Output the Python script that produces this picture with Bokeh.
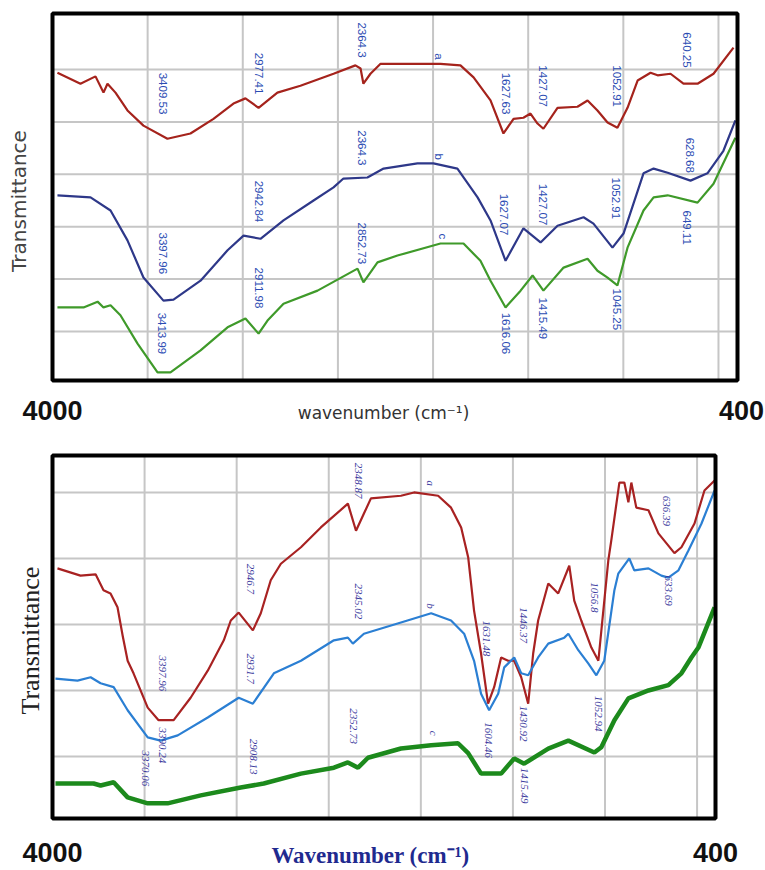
import math
from bokeh.plotting import figure
from bokeh.models import Range1d, ColumnDataSource
from bokeh.layouts import column
from bokeh.core.properties import value
from bokeh.embed import file_html
from bokeh.resources import INLINE

# ---------------- top panel data (wavenumber cm-1, transmittance a.u.) ----------------
top_a_wn = [3974, 3853, 3774, 3732, 3711, 3669, 3606, 3522, 3396, 3275, 3154, 3049, 2986, 2917, 2818, 2697,
            2523, 2408, 2381, 2366, 2329, 2276, 1961, 1856, 1787, 1698, 1630, 1577, 1525, 1488, 1451, 1420,
            1346, 1241, 1188, 1136, 1083, 1031, 978, 925, 857, 820, 752, 684, 610, 526, 421]
top_a_T = [5.94, 5.73, 5.87, 5.56, 5.73, 5.56, 5.22, 4.93, 4.68, 4.78, 5.06, 5.35, 5.45, 5.27, 5.56, 5.69,
           5.92, 6.08, 6.02, 5.73, 5.92, 6.11, 6.11, 6.08, 5.85, 5.41, 4.78, 5.06, 5.08, 5.16, 4.97, 4.87,
           5.27, 5.29, 5.41, 5.22, 4.99, 4.89, 5.27, 5.79, 5.94, 5.89, 5.92, 5.73, 5.73, 5.92, 6.42]

top_b_wn = [3974, 3800, 3695, 3606, 3522, 3417, 3364, 3222, 3080, 2996, 2907, 2786, 2628, 2523, 2471, 2345,
            2260, 2082, 1998, 1872, 1766, 1698, 1619, 1525, 1435, 1346, 1209, 1157, 1057, 999, 894, 841,
            767, 647, 558, 474, 411]
top_b_T = [3.60, 3.56, 3.31, 2.74, 2.03, 1.59, 1.61, 1.97, 2.55, 2.83, 2.77, 3.12, 3.50, 3.75, 3.92, 3.94,
           4.11, 4.21, 4.21, 4.11, 3.56, 3.12, 2.35, 2.97, 2.70, 3.02, 3.18, 3.06, 2.60, 2.87, 4.02, 4.11,
           4.03, 3.88, 4.02, 4.45, 5.03]

top_c_wn = [3974, 3837, 3763, 3732, 3695, 3643, 3553, 3448, 3380, 3222, 3080, 2986, 2917, 2870, 2786, 2607,
            2397, 2366, 2292, 2187, 1961, 1840, 1751, 1698, 1619, 1540, 1477, 1420, 1314, 1188, 1136, 1083,
            1031, 978, 894, 841, 767, 610, 526, 411]
top_c_T = [1.46, 1.46, 1.57, 1.46, 1.50, 1.31, 0.77, 0.22, 0.22, 0.64, 1.08, 1.25, 0.96, 1.21, 1.53, 1.78,
           2.20, 1.94, 2.32, 2.45, 2.68, 2.68, 2.35, 1.97, 1.46, 1.78, 2.07, 1.78, 2.22, 2.39, 2.16, 2.03,
           1.88, 2.60, 3.31, 3.56, 3.60, 3.46, 3.82, 4.70]

top_labels = ["3409.53", "2977.41", "2364.3", "a", "1627.63", "1427.07", "1052.91", "640.25",
              "2364.3", "2942.84", "b", "1627.07", "1427.07", "1052.91", "628.68",
              "3397.96", "2911.98", "2852.73", "c", "3413.99", "1616.06", "1415.49", "1045.25", "649.11"]
top_label_wn = [3417, 2917, 2371, 1971, 1619, 1420, 1031, 663,
                2371, 2917, 1971, 1625, 1420, 1036, 652,
                3417, 2917, 2371, 1950, 3427, 1619, 1420, 1031, 663]
top_label_T = [5.94, 6.32, 6.90, 6.31, 5.94, 6.08, 6.08, 6.71,
               4.84, 3.88, 4.40, 3.63, 3.82, 3.94, 4.70,
               2.89, 2.22, 3.08, 2.87, 1.36, 1.36, 1.65, 1.82, 3.31]

# ---------------- bottom panel data ----------------
bot_a_wn = [3973, 3848, 3766, 3723, 3685, 3647, 3619, 3592, 3560, 3483, 3424, 3342, 3250, 3157, 3070, 3032,
            2989, 2912, 2869, 2815, 2760, 2651, 2543, 2396, 2352, 2309, 2271, 2108, 2037, 1906, 1836, 1781,
            1743, 1711, 1673, 1635, 1602, 1564, 1526, 1493, 1455, 1417, 1390, 1363, 1308, 1254, 1194, 1167,
            1129, 1074, 1036, 982, 966, 922, 895, 873, 857, 830, 764, 710, 623, 585, 514, 460, 405]
bot_a_T = [3.85, 3.74, 3.76, 3.52, 3.47, 3.26, 2.83, 2.45, 2.26, 1.74, 1.55, 1.55, 1.89, 2.30, 2.76, 3.06,
           3.18, 2.91, 3.17, 3.67, 3.92, 4.17, 4.47, 4.83, 4.42, 4.68, 4.91, 4.95, 5.00, 4.95, 4.77, 4.47,
           4.02, 3.21, 2.56, 1.80, 2.05, 2.50, 2.45, 2.45, 2.20, 1.80, 2.56, 3.06, 3.62, 3.47, 3.89, 3.36,
           3.06, 2.65, 2.45, 3.97, 4.27, 5.15, 5.15, 4.85, 5.15, 4.77, 4.73, 4.38, 4.08, 4.17, 4.53, 5.03, 5.18]

bot_b_wn = [3984, 3864, 3793, 3739, 3668, 3592, 3483, 3413, 3320, 3157, 2989, 2912, 2798, 2651, 2472, 2396,
            2369, 2309, 2108, 1944, 1836, 1765, 1711, 1673, 1629, 1580, 1547, 1493, 1455, 1417, 1363, 1308,
            1221, 1199, 1145, 1091, 1047, 1004, 949, 928, 868, 841, 764, 694, 656, 601, 547, 476, 405]
bot_b_T = [2.18, 2.15, 2.20, 2.11, 2.05, 1.70, 1.29, 1.24, 1.32, 1.59, 1.89, 1.80, 2.26, 2.45, 2.76, 2.80,
           2.71, 2.86, 3.03, 3.17, 3.06, 2.86, 2.45, 1.95, 1.70, 1.95, 2.35, 2.50, 2.26, 2.23, 2.50, 2.71,
           2.80, 2.86, 2.61, 2.41, 2.23, 2.45, 3.52, 3.77, 4.00, 3.82, 3.85, 3.74, 3.71, 3.82, 4.12, 4.53, 5.03]

bot_c_wn = [3984, 3777, 3739, 3668, 3592, 3483, 3375, 3195, 2978, 2853, 2651, 2472, 2396, 2341, 2287, 2108,
            1944, 1798, 1743, 1673, 1564, 1493, 1439, 1308, 1199, 1058, 1020, 949, 873, 764, 656, 585, 531,
            493, 405]
bot_c_T = [0.59, 0.59, 0.56, 0.61, 0.38, 0.29, 0.29, 0.41, 0.53, 0.59, 0.74, 0.83, 0.91, 0.83, 0.98, 1.12,
           1.17, 1.20, 1.05, 0.74, 0.74, 0.97, 0.89, 1.12, 1.24, 1.06, 1.14, 1.55, 1.88, 2.00, 2.08, 2.26, 2.50,
           2.65, 3.26]

bot_labels = ["2348.87", "2946.7", "a", "2345.02", "b", "2931.7", "3397.96", "3390.24", "3370.06",
              "2908.13", "2352.73", "c", "1631.48", "1446.37", "1056.8", "636.39", "633.69",
              "1604.46", "1430.92", "1415.49", "1052.94"]
bot_label_wn = [2341, 2923, 1944, 2341, 1944, 2923, 3402, 3402, 3494,
                2907, 2363, 1928, 1645, 1444, 1058, 667, 656,
                1635, 1444, 1439, 1036]
bot_label_T = [5.45, 3.92, 5.18, 3.62, 3.32, 2.56, 2.53, 1.44, 1.09,
               1.27, 1.73, 1.39, 3.06, 3.26, 3.64, 4.95, 3.74,
               1.52, 1.77, 0.83, 1.92]

wn_start, wn_end = 4000, 400
x_end_labels = ["4000", "400"]
grid_wn = [3500, 3000, 2500, 2000, 1500, 1000, 500]

W = 765


def panel(height, box_left, box_right, box_top, box_bottom, ylo, yhi, ygrid):
    """Figure whose frame is the whole canvas; the spectrum box sits at the given pixel margins."""
    fw = box_right - box_left
    fh = box_bottom - box_top
    cm_per_px = (wn_start - wn_end) / fw
    u_per_px = (yhi - ylo) / fh
    x_rng = Range1d(wn_start + box_left * cm_per_px, wn_end - (W - box_right) * cm_per_px)
    y_rng = Range1d(ylo - (height - box_bottom) * u_per_px, yhi + box_top * u_per_px)
    p = figure(width=W, height=height, x_range=x_rng, y_range=y_rng, output_backend="svg",
               toolbar_location=None, x_axis_location=None, y_axis_location=None,
               min_border=0, outline_line_color=None)
    p.grid.visible = False
    p.background_fill_color = "white"
    p.border_fill_color = "white"
    p.segment(x0=grid_wn, x1=grid_wn, y0=[ylo] * len(grid_wn), y1=[yhi] * len(grid_wn),
              line_color="#c6c6c6", line_width=2)
    p.segment(x0=[wn_start] * len(ygrid), x1=[wn_end] * len(ygrid), y0=ygrid, y1=ygrid,
              line_color="#c6c6c6", line_width=2)
    return p, cm_per_px, u_per_px


def frame(p, ylo, yhi):
    p.quad(left=[wn_start], right=[wn_end], bottom=[ylo], top=[yhi], fill_color=None,
           line_color="black", line_width=4)


# ---------------- top ----------------
T_LO, T_HI = 0.065, 7.07
p1, cpx1, upx1 = panel(432, 52, 737, 13, 380, T_LO, T_HI, [1, 2, 3, 4, 5, 6])
p1.line(top_a_wn, top_a_T, line_color="#a5231c", line_width=2.2)
p1.line(top_b_wn, top_b_T, line_color="#2e3889", line_width=2.2)
p1.line(top_c_wn, top_c_T, line_color="#3f9a2a", line_width=2.2)
frame(p1, T_LO, T_HI)
src1 = ColumnDataSource(dict(x=top_label_wn, y=top_label_T, t=top_labels))
p1.text(x="x", y="y", text="t", source=src1, angle=-math.pi / 2, text_align="left",
        text_baseline="middle", text_color="#2b4cb3", text_font=value("Liberation Sans"),
        text_font_size="11.5px")
y_under1 = T_LO - 20 * upx1
p1.text(x=[wn_start, wn_end - 4 * cpx1], y=[y_under1, y_under1], text=x_end_labels,
        text_align="center", text_baseline="top", text_font=value("Liberation Sans"),
        text_font_style="bold", text_font_size="27px", text_color="#111111")
p1.text(x=[wn_start - 331 * cpx1], y=[T_LO - 22 * upx1], text=["wavenumber (cm\u207b\u00b9)"],
        text_align="center", text_baseline="top", text_font=value("DejaVu Sans"),
        text_font_size="17px", text_color="#333333")
p1.text(x=[wn_start + 34 * cpx1], y=[(T_LO + T_HI) / 2 - 4 * upx1], text=["Transmittance"],
        angle=math.pi / 2, text_align="center", text_baseline="middle",
        text_font=value("DejaVu Sans"), text_font_size="20px", text_color="#444444")

# ---------------- bottom ----------------
B_LO, B_HI = 0.06, 5.56
p2, cpx2, upx2 = panel(438, 52, 715, 23, 386, B_LO, B_HI, [1, 2, 3, 4, 5])
p2.line(bot_a_wn, bot_a_T, line_color="#a82222", line_width=2.2)
p2.line(bot_b_wn, bot_b_T, line_color="#2b7fd3", line_width=2.2)
p2.line(bot_c_wn, bot_c_T, line_color="#1c8a1c", line_width=4.5)
frame(p2, B_LO, B_HI)
src2 = ColumnDataSource(dict(x=bot_label_wn, y=bot_label_T, t=bot_labels))
p2.text(x="x", y="y", text="t", source=src2, angle=-math.pi / 2, text_align="left",
        text_baseline="middle", text_color="#3b3b9e", text_font=value("Liberation Serif"),
        text_font_style="italic", text_font_size="11px")
y_under2 = B_LO - 24 * upx2
p2.text(x=[wn_start, wn_end], y=[y_under2, y_under2], text=x_end_labels,
        text_align="center", text_baseline="top", text_font=value("Liberation Sans"),
        text_font_style="bold", text_font_size="27px", text_color="#111111")
p2.text(x=[wn_start - 318 * cpx2], y=[B_LO - 24 * upx2], text=["Wavenumber (cm\u207b\u00b9)"],
        text_align="center", text_baseline="top", text_font=value("Liberation Serif"),
        text_font_style="bold", text_font_size="23px", text_color="#1f2a8f")
p2.text(x=[wn_start + 22 * cpx2], y=[B_LO + 0.49 * (B_HI - B_LO)], text=["Transmittance"],
        angle=math.pi / 2, text_align="center", text_baseline="middle",
        text_font=value("Liberation Serif"), text_font_size="26px", text_color="#222222")

layout = column(p1, p2, spacing=0)
open("out.html", "w").write(file_html(layout, INLINE))
